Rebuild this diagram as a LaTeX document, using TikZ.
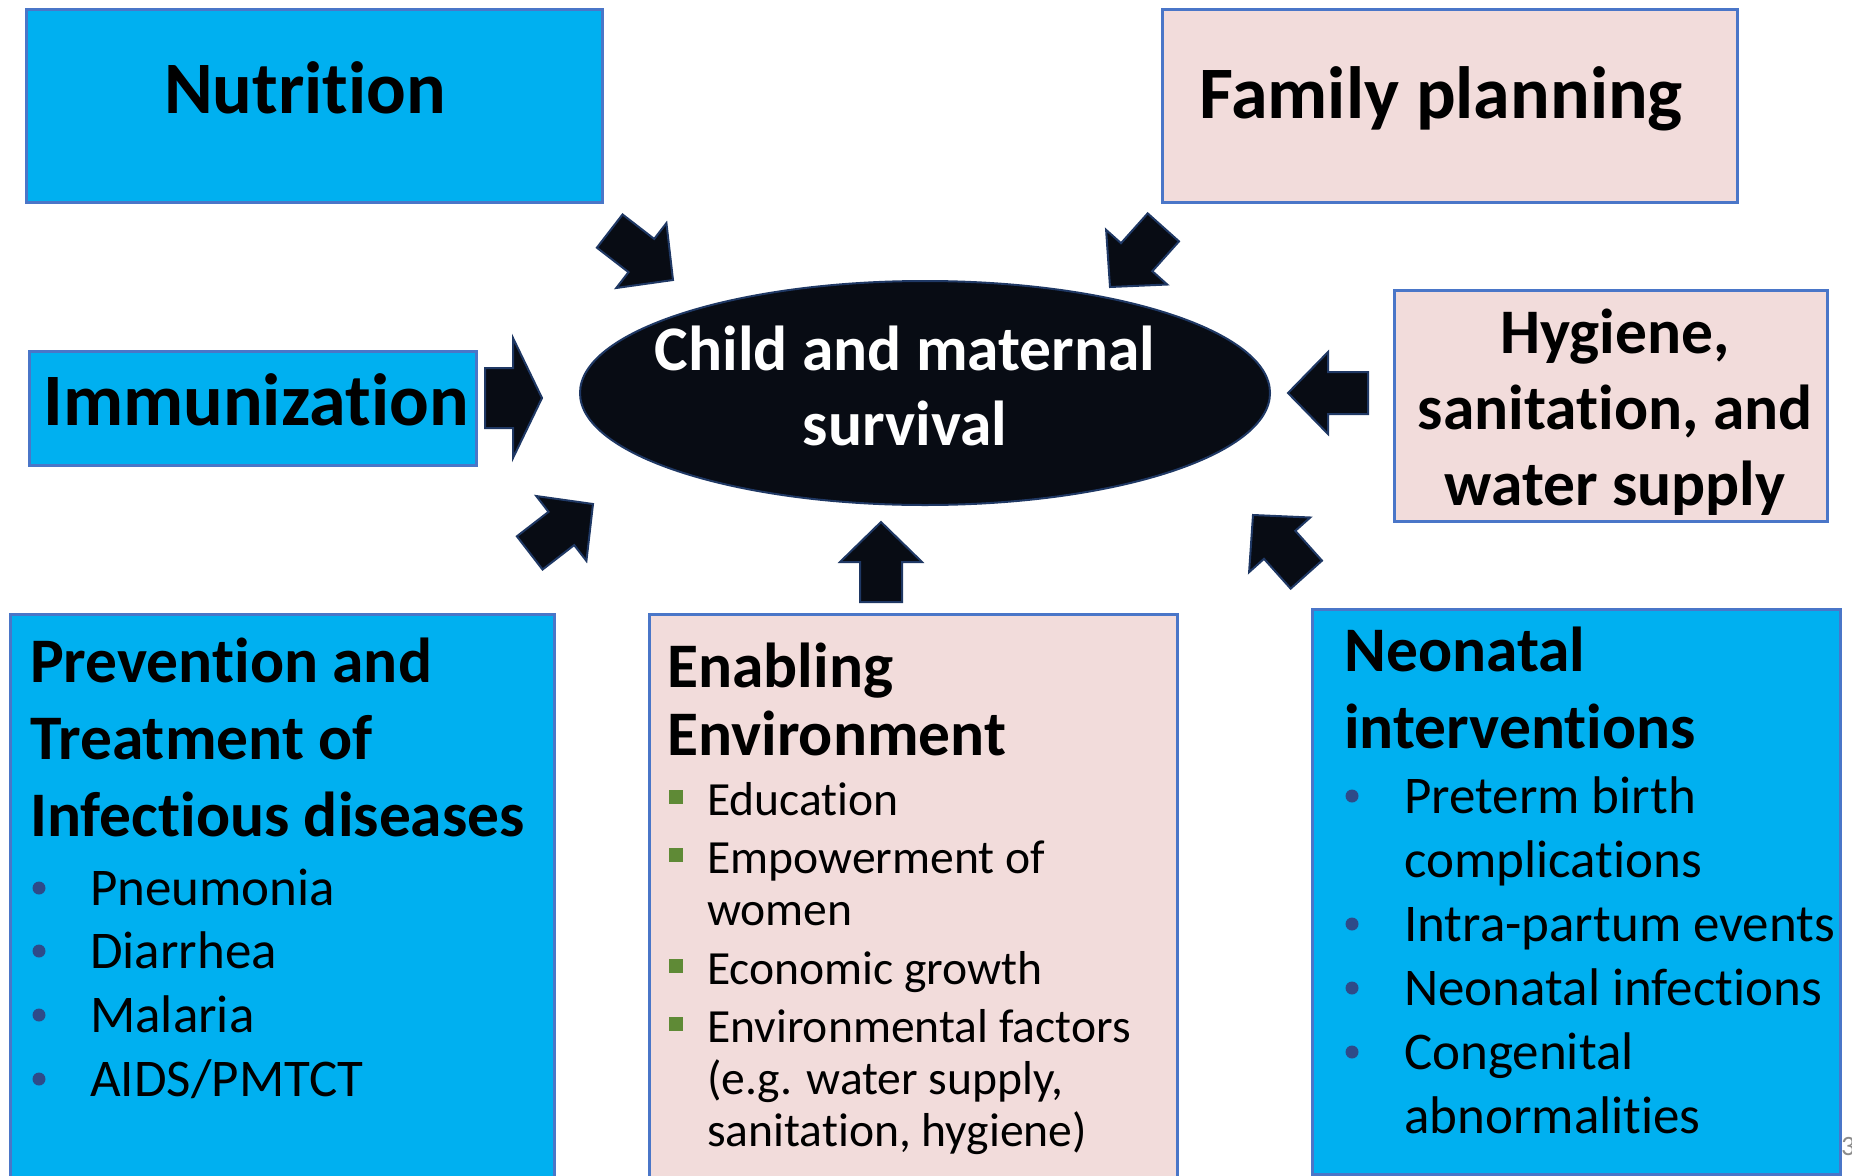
\documentclass[tikz,border=0pt]{standalone}
\usepackage{fontspec}
\setmainfont{Carlito}[Ligatures=NoCommon]
\usetikzlibrary{shapes.geometric,positioning}

\definecolor{cyanfill}{HTML}{00B0F0}
\definecolor{pinkfill}{HTML}{F2DCDB}
\definecolor{boxline}{HTML}{4A76C8}
\definecolor{darkfill}{HTML}{080C14}
\definecolor{darkline}{HTML}{1F3864}
\definecolor{dotblue}{HTML}{2E4B89}
\definecolor{sqgreen}{HTML}{5F8A36}
\definecolor{pagegray}{HTML}{8C8C8C}

\tikzstyle{bluebox} = [draw=boxline, fill=cyanfill, line width=2.5pt, rectangle, anchor=north west, inner sep=0pt]
\tikzstyle{pinkbox} = [bluebox, fill=pinkfill]
\tikzstyle{bigtitle} = [font=\bfseries\fontsize{74}{89}\selectfont, inner sep=0pt, anchor=base]
\tikzstyle{midtitle} = [font=\bfseries\fontsize{63.5}{77}\selectfont, inner sep=0pt, anchor=base west, align=left]
\tikzstyle{listitem} = [font=\fontsize{53}{64}\selectfont, inner sep=0pt, anchor=base west]
\tikzstyle{smallitem} = [font=\fontsize{47.6}{52}\selectfont, inner sep=0pt, anchor=base west, align=left]
\tikzstyle{bulletdot} = [circle, fill=dotblue, inner sep=0pt, minimum size=13pt]
\tikzstyle{bulletsq} = [rectangle, fill=sqgreen, inner sep=0pt, minimum size=14pt]
\tikzstyle{blockfill} = [fill=darkfill, draw=darkline, line width=2pt]

\tikzset{
  blockarrow/.pic={\path[blockfill] (0,0) -- (-40,-41) -- (-40,-21) -- (-80,-21) -- (-80,21) -- (-40,21) -- (-40,41) -- cycle;},
  widearrow/.pic={\path[blockfill] (0,0) -- (-29,-60) -- (-29,-30) -- (-57,-30) -- (-57,30) -- (-29,30) -- (-29,60) -- cycle;}
}

\begin{document}
\begin{tikzpicture}[x=1pt, y=-1pt]
\useasboundingbox (0,0) rectangle (1852,1175);

\node[bluebox, minimum width=576pt, minimum height=193pt] (nutrition) at (25,8) {};
\node[pinkbox, minimum width=575pt, minimum height=193pt] (family) at (1161,8) {};
\node[bluebox, minimum width=447pt, minimum height=114pt] (immun) at (28,350) {};
\node[pinkbox, minimum width=433pt, minimum height=231pt] (hygiene) at (1393,289) {};
\node[bluebox, minimum width=544pt, minimum height=580pt] (prevent) at (9,613) {};
\node[pinkbox, minimum width=528pt, minimum height=580pt] (enabling) at (648,613) {};
\node[bluebox, minimum width=528pt, minimum height=565pt] (neonatal) at (1311,608) {};
\node[ellipse, fill=darkfill, draw=darkline, line width=2pt, minimum width=690pt, minimum height=224pt, inner sep=0pt] (survival) at (925,393) {};

\node[bigtitle] (nutritiontext) at (305,113) {Nutrition};
\node[bigtitle] (familytext) at (1441,118) {Family planning};
\node[bigtitle] (immuntext) at (256,425) {Immunization};
\node[midtitle, anchor=base, align=center, text=white, font=\bfseries\fontsize{63.5}{75}\selectfont] (survivaltext) at (905,445) {Child and maternal\\survival};
\node[midtitle, anchor=base, align=center, font=\bfseries\fontsize{63.5}{76}\selectfont] (hygienetext) at (1615,505) {Hygiene,\\sanitation, and\\water supply};

\node[midtitle] (preventtext) at (30,836) {Prevention and\\Treatment of\\Infectious diseases};
\node[listitem] (pneumonia) at (90,905) {Pneumonia};
\node[listitem] (diarrhea) at (90,968) {Diarrhea};
\node[listitem] (malaria) at (90,1032) {Malaria};
\node[listitem] (aids) at (90,1096) {AIDS/PMTCT};
\node[bulletdot] at (39,888) {};
\node[bulletdot] at (39,951) {};
\node[bulletdot] at (39,1015) {};
\node[bulletdot] at (39,1079) {};

\node[midtitle, font=\bfseries\fontsize{63.5}{68}\selectfont] (enablingtext) at (667,755) {Enabling\\Environment};
\node[smallitem] (education) at (707,815) {Education};
\node[smallitem] (empower) at (707,925) {Empowerment of\\women};
\node[smallitem] (economic) at (707,984) {Economic growth};
\node[smallitem] (environ) at (707,1146) {Environmental factors\\(e.g. water supply,\\sanitation, hygiene)};
\node[bulletsq] at (676,797) {};
\node[bulletsq] at (676,855) {};
\node[bulletsq] at (676,966) {};
\node[bulletsq] at (676,1024) {};

\node[midtitle] (neonataltext) at (1344,748) {Neonatal\\interventions};
\node[listitem] (preterm) at (1404,813) {Preterm birth};
\node[listitem] (complic) at (1404,877) {complications};
\node[listitem] (intra) at (1404,941) {Intra-partum events};
\node[listitem] (infect) at (1404,1005) {Neonatal infections};
\node[listitem] (congen) at (1404,1069) {Congenital};
\node[listitem] (abnorm) at (1404,1133) {abnormalities};
\node[bulletdot] at (1352,796) {};
\node[bulletdot] at (1352,924) {};
\node[bulletdot] at (1352,988) {};
\node[bulletdot] at (1352,1052) {};

\pic[rotate=-37.7] at (673,280) {blockarrow};
\pic[rotate=-131.8] at (1110,287) {blockarrow};
\pic at (542,398) {widearrow};
\pic[rotate=180] at (1288,393) {blockarrow};
\pic[rotate=37.7] at (593,504) {blockarrow};
\pic[rotate=90] at (881,522) {blockarrow};
\pic[rotate=131.8] at (1253,515) {blockarrow};

\node[font=\fontsize{28}{34}\selectfont, text=pagegray, anchor=base west, inner sep=0pt] (pagenum) at (1841,1155) {3};
\end{tikzpicture}
\end{document}
